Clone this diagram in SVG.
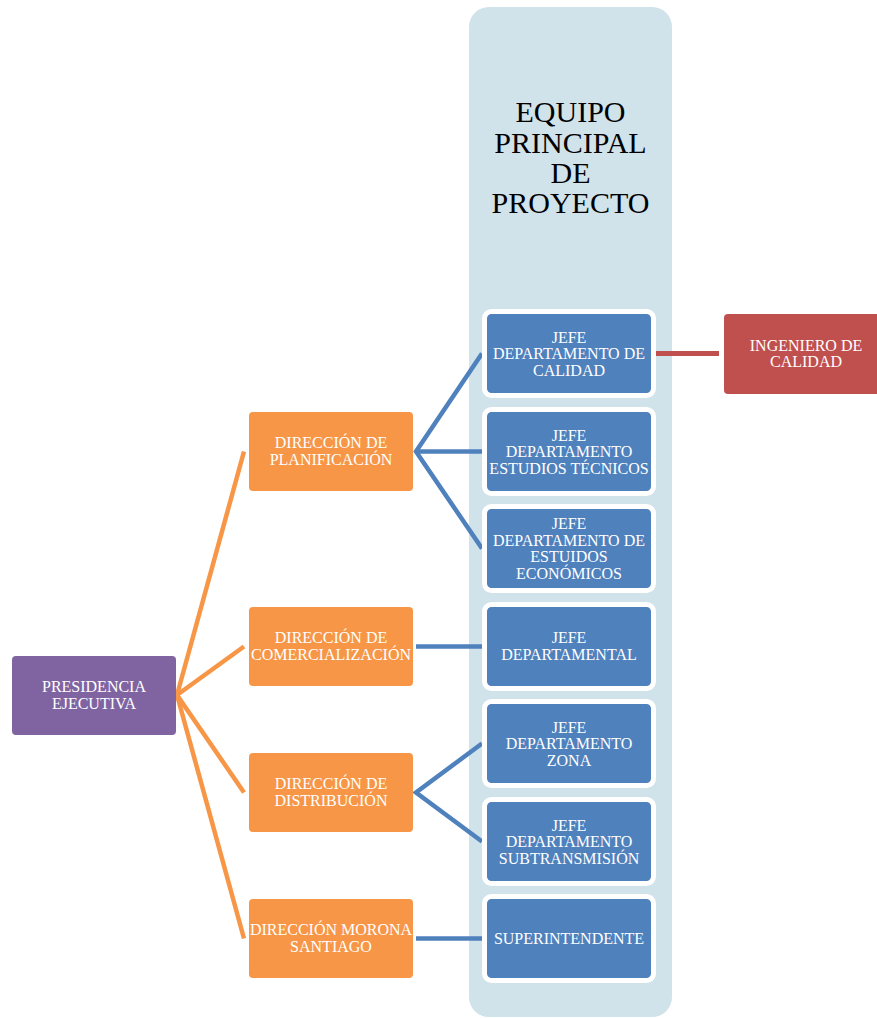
<svg xmlns="http://www.w3.org/2000/svg" width="877" height="1018" viewBox="0 0 877 1018">
<style>
  .t { font-family: "Liberation Serif", "Times New Roman", serif; font-size: 16px; fill: #ffffff; text-anchor: middle; }
  .title { font-family: "Liberation Serif", "Times New Roman", serif; font-size: 30px; fill: #000000; text-anchor: middle; }
  .org { fill: #f79646; }
  .blu { fill: #4f81bd; stroke: #ffffff; stroke-width: 5; }
  .oc { stroke: #f79646; stroke-width: 4.5; fill: none; }
  .bc { stroke: #4f81bd; stroke-width: 4.5; fill: none; }
  .rc { stroke: #c0504d; stroke-width: 5; fill: none; }
</style>
<rect width="877" height="1018" fill="#ffffff"/>
<g id="panel">
  <rect x="469" y="7" width="203" height="1010" rx="20" fill="#d0e2ea"/>
  <text class="title" x="570.5" y="122">EQUIPO</text>
  <text class="title" x="570.5" y="152.5">PRINCIPAL</text>
  <text class="title" x="570.5" y="183">DE</text>
  <text class="title" x="570.5" y="213">PROYECTO</text>
</g>
<g id="connectors">
  <line class="oc" x1="177" y1="695" x2="244" y2="451.5"/>
  <line class="oc" x1="177" y1="695" x2="244" y2="646.5"/>
  <line class="oc" x1="177" y1="695" x2="244" y2="792.5"/>
  <line class="oc" x1="177" y1="695" x2="244" y2="938.5"/>
  <polyline class="bc" points="482,353.5 416,451.5 482,548.5"/>
  <line class="bc" x1="416" y1="451.5" x2="482" y2="451.5"/>
  <line class="bc" x1="416" y1="646.5" x2="482" y2="646.5"/>
  <polyline class="bc" points="482,743.5 416,792.5 482,841.5"/>
  <line class="bc" x1="416" y1="938.5" x2="482" y2="938.5"/>
  <line class="rc" x1="655" y1="353.5" x2="719" y2="353.5"/>
</g>
<g id="presidencia">
  <rect x="12" y="656" width="164" height="79" rx="4" fill="#8064a2"/>
  <text class="t" x="94" y="692">PRESIDENCIA</text>
  <text class="t" x="94" y="708.7">EJECUTIVA</text>
</g>
<g id="dir-planificacion">
  <rect class="org" x="249" y="412" width="164" height="79" rx="4"/>
  <text class="t" x="331" y="448">DIRECCIÓN DE</text>
  <text class="t" x="331" y="465.3">PLANIFICACIÓN</text>
</g>
<g id="dir-comercializacion">
  <rect class="org" x="249" y="607" width="164" height="79" rx="4"/>
  <text class="t" x="331" y="643">DIRECCIÓN DE</text>
  <text class="t" x="331" y="660.3">COMERCIALIZACIÓN</text>
</g>
<g id="dir-distribucion">
  <rect class="org" x="249" y="753" width="164" height="79" rx="4"/>
  <text class="t" x="331" y="789">DIRECCIÓN DE</text>
  <text class="t" x="331" y="806.3">DISTRIBUCIÓN</text>
</g>
<g id="dir-morona">
  <rect class="org" x="249" y="899" width="164" height="79" rx="4"/>
  <text class="t" x="331" y="935">DIRECCIÓN MORONA</text>
  <text class="t" x="331" y="952.3">SANTIAGO</text>
</g>
<g id="jefe-calidad">
  <rect class="blu" x="484.5" y="311.5" width="169" height="84" rx="7"/>
  <text class="t" x="569" y="342.6">JEFE</text>
  <text class="t" x="569" y="359.3">DEPARTAMENTO DE</text>
  <text class="t" x="569" y="376">CALIDAD</text>
</g>
<g id="jefe-tecnicos">
  <rect class="blu" x="484.5" y="409.5" width="169" height="84" rx="7"/>
  <text class="t" x="569" y="440.6">JEFE</text>
  <text class="t" x="569" y="457.3">DEPARTAMENTO</text>
  <text class="t" x="569" y="474">ESTUDIOS TÉCNICOS</text>
</g>
<g id="jefe-economicos">
  <rect class="blu" x="484.5" y="506.5" width="169" height="84" rx="7"/>
  <text class="t" x="569" y="528.8">JEFE</text>
  <text class="t" x="569" y="545.5">DEPARTAMENTO DE</text>
  <text class="t" x="569" y="562.2">ESTUIDOS</text>
  <text class="t" x="569" y="578.9">ECONÓMICOS</text>
</g>
<g id="jefe-departamental">
  <rect class="blu" x="484.5" y="604.5" width="169" height="84" rx="7"/>
  <text class="t" x="569" y="643">JEFE</text>
  <text class="t" x="569" y="660">DEPARTAMENTAL</text>
</g>
<g id="jefe-zona">
  <rect class="blu" x="484.5" y="701.5" width="169" height="84" rx="7"/>
  <text class="t" x="569" y="732.6">JEFE</text>
  <text class="t" x="569" y="749.3">DEPARTAMENTO</text>
  <text class="t" x="569" y="766">ZONA</text>
</g>
<g id="jefe-subtransmision">
  <rect class="blu" x="484.5" y="799.5" width="169" height="84" rx="7"/>
  <text class="t" x="569" y="830.6">JEFE</text>
  <text class="t" x="569" y="847.3">DEPARTAMENTO</text>
  <text class="t" x="569" y="864">SUBTRANSMISIÓN</text>
</g>
<g id="superintendente">
  <rect class="blu" x="484.5" y="896.5" width="169" height="84" rx="7"/>
  <text class="t" x="569" y="944">SUPERINTENDENTE</text>
</g>
<g id="ingeniero-calidad">
  <rect x="724" y="314" width="164" height="80" rx="4" fill="#c0504d"/>
  <text class="t" x="806" y="351">INGENIERO DE</text>
  <text class="t" x="806" y="367">CALIDAD</text>
</g>
</svg>
